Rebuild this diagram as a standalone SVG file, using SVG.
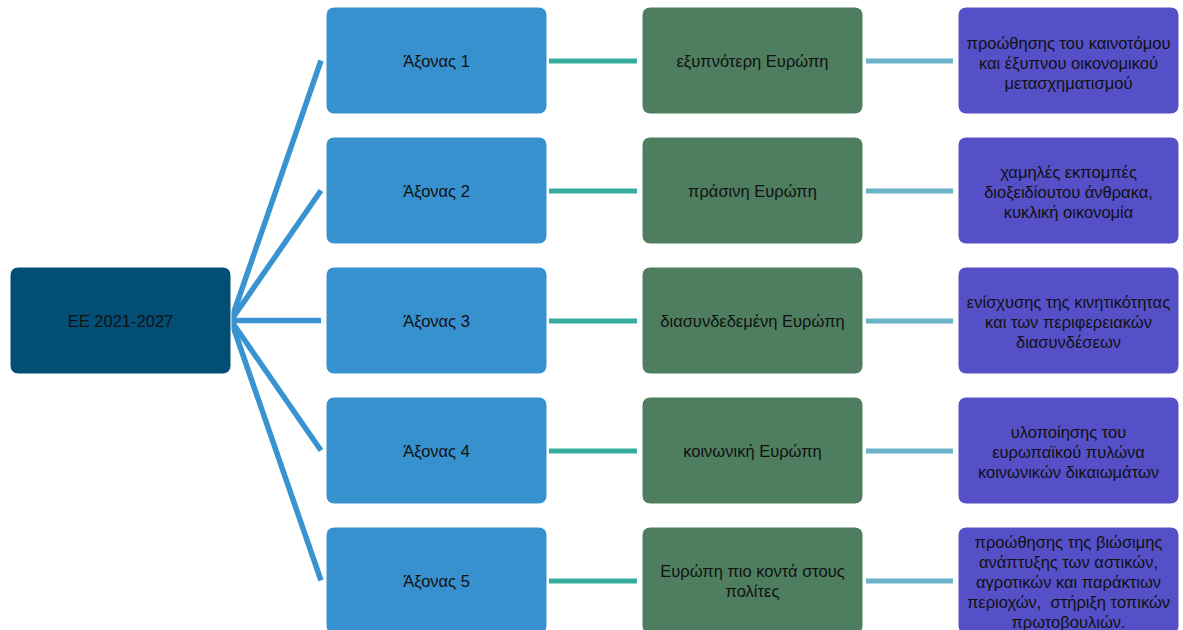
<svg xmlns="http://www.w3.org/2000/svg" width="1183" height="630" viewBox="0 0 1183 630">
<style>
.root{fill:#024e74}
.axis{fill:#3891cf}
.green{fill:#4e7e5f}
.purple{fill:#5650c8}
.box{stroke:#ffffff;stroke-width:1}
text{font-family:"Liberation Sans",Arial,sans-serif;font-size:16.5px;fill:#111111;text-anchor:middle;dominant-baseline:central}
.c1{stroke:#3a93d1;stroke-width:5.5;fill:none}
.c2{stroke:#38ad9f;stroke-width:5;fill:none}
.c3{stroke:#6ab3c9;stroke-width:5;fill:none}
</style>
<rect width="1183" height="630" fill="#ffffff"/>
<g id="connectors">
<line class="c1" x1="231" y1="320.5" x2="321" y2="60.5"/>
<line class="c1" x1="231" y1="320.5" x2="321" y2="190.5"/>
<line class="c1" x1="231" y1="320.5" x2="321" y2="320.5"/>
<line class="c1" x1="231" y1="320.5" x2="321" y2="450.5"/>
<line class="c1" x1="231" y1="320.5" x2="321" y2="580.5"/>
<line class="c2" x1="549" y1="61" x2="637" y2="61"/>
<line class="c2" x1="549" y1="191" x2="637" y2="191"/>
<line class="c2" x1="549" y1="321" x2="637" y2="321"/>
<line class="c2" x1="549" y1="451" x2="637" y2="451"/>
<line class="c2" x1="549" y1="581" x2="637" y2="581"/>
<line class="c3" x1="866" y1="61" x2="953" y2="61"/>
<line class="c3" x1="866" y1="191" x2="953" y2="191"/>
<line class="c3" x1="866" y1="321" x2="953" y2="321"/>
<line class="c3" x1="866" y1="451" x2="953" y2="451"/>
<line class="c3" x1="866" y1="581" x2="953" y2="581"/>
</g>
<g id="root">
<rect class="root box" x="10" y="267" width="221" height="107" rx="8"/>
<text x="120.5" y="321">EE 2021-2027</text>
</g>
<g id="axis1"><rect class="axis box" x="326" y="7" width="221" height="107" rx="8"/><text x="436.5" y="61">Άξονας 1</text></g>
<g id="axis2"><rect class="axis box" x="326" y="137" width="221" height="107" rx="8"/><text x="436.5" y="191">Άξονας 2</text></g>
<g id="axis3"><rect class="axis box" x="326" y="267" width="221" height="107" rx="8"/><text x="436.5" y="321">Άξονας 3</text></g>
<g id="axis4"><rect class="axis box" x="326" y="397" width="221" height="107" rx="8"/><text x="436.5" y="451">Άξονας 4</text></g>
<g id="axis5"><rect class="axis box" x="326" y="527" width="221" height="107" rx="8"/><text x="436.5" y="581">Άξονας 5</text></g>
<g id="green1"><rect class="green box" x="642" y="7" width="221" height="107" rx="8"/><text x="752.5" y="61">εξυπνότερη Ευρώπη</text></g>
<g id="green2"><rect class="green box" x="642" y="137" width="221" height="107" rx="8"/><text x="752.5" y="191">πράσινη Ευρώπη</text></g>
<g id="green3"><rect class="green box" x="642" y="267" width="221" height="107" rx="8"/><text x="752.5" y="321">διασυνδεδεμένη Ευρώπη</text></g>
<g id="green4"><rect class="green box" x="642" y="397" width="221" height="107" rx="8"/><text x="752.5" y="451">κοινωνική Ευρώπη</text></g>
<g id="green5"><rect class="green box" x="642" y="527" width="221" height="107" rx="8"/><text x="752.5" y="571">Ευρώπη πιο κοντά στους</text><text x="752.5" y="591">πολίτες</text></g>
<g id="purple1"><rect class="purple box" x="958" y="7" width="221" height="107" rx="8"/>
<text x="1068.5" y="43">προώθησης του καινοτόμου</text><text x="1068.5" y="63">και έξυπνου οικονομικού</text><text x="1068.5" y="83">μετασχηματισμού</text></g>
<g id="purple2"><rect class="purple box" x="958" y="137" width="221" height="107" rx="8"/>
<text x="1068.5" y="172">χαμηλές εκπομπές</text><text x="1068.5" y="192">διοξειδίουτου άνθρακα,</text><text x="1068.5" y="212">κυκλική οικονομία</text></g>
<g id="purple3"><rect class="purple box" x="958" y="267" width="221" height="107" rx="8"/>
<text x="1068.5" y="302">ενίσχυσης της κινητικότητας</text><text x="1068.5" y="322">και των περιφερειακών</text><text x="1068.5" y="342">διασυνδέσεων</text></g>
<g id="purple4"><rect class="purple box" x="958" y="397" width="221" height="107" rx="8"/>
<text x="1068.5" y="432">υλοποίησης του</text><text x="1068.5" y="452">ευρωπαϊκού πυλώνα</text><text x="1068.5" y="472">κοινωνικών δικαιωμάτων</text></g>
<g id="purple5"><rect class="purple box" x="958" y="527" width="221" height="107" rx="8"/>
<text x="1068.5" y="542">προώθησης της βιώσιμης</text><text x="1068.5" y="562">ανάπτυξης των αστικών,</text><text x="1068.5" y="582">αγροτικών και παράκτιων</text><text x="1068.5" y="602" xml:space="preserve">περιοχών,  στήριξη τοπικών</text><text x="1068.5" y="622">πρωτοβουλιών.</text></g>
</svg>
